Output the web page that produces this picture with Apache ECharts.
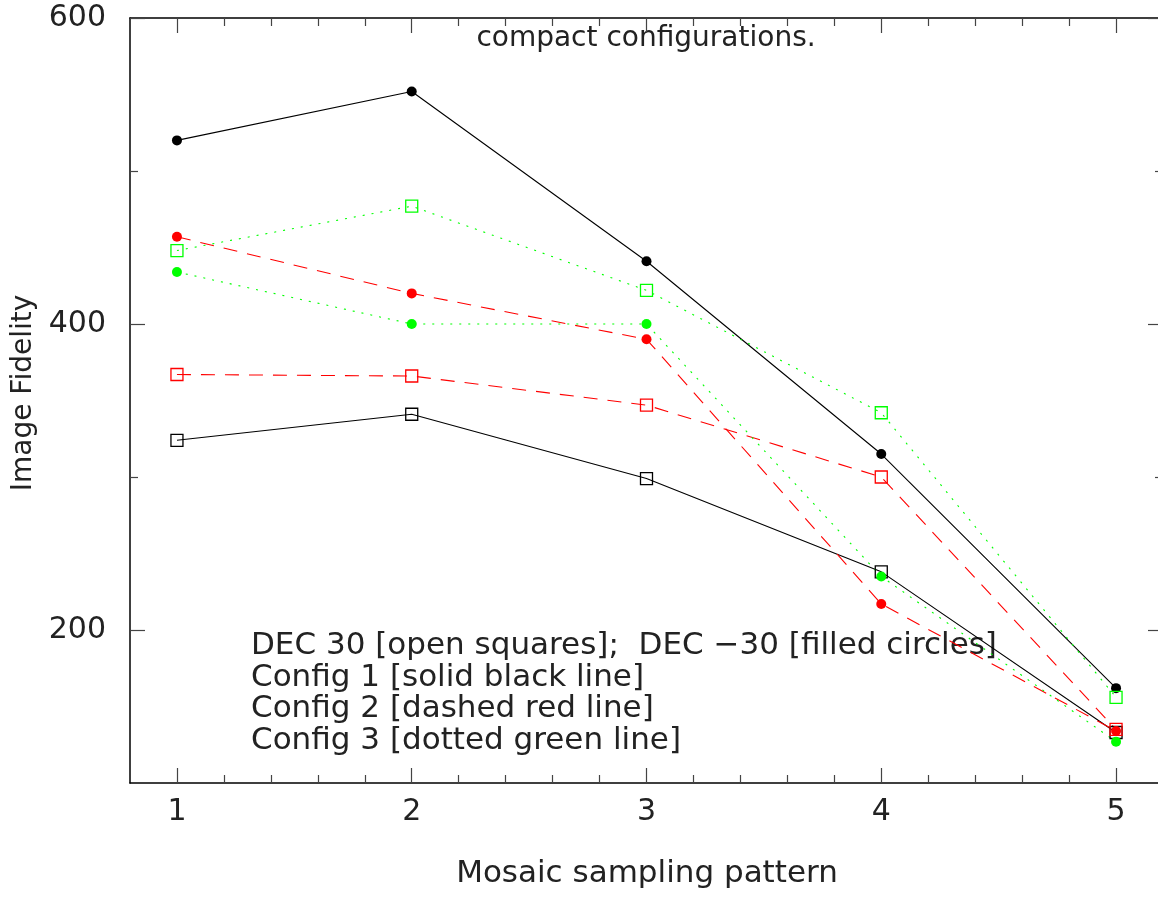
<!DOCTYPE html>
<html>
<head>
<meta charset="utf-8">
<script src="https://cdn.jsdelivr.net/npm/echarts@6/dist/echarts.min.js"></script>
<style>
html,body{margin:0;padding:0;background:#fff;overflow:hidden;width:1158px;height:898px;}
#chart{width:1170px;height:898px;}
</style>
</head>
<body>
<div id="chart"></div>
<script>
// ---- data ----
const patterns = [1, 2, 3, 4, 5];
const xTickLabels = [1, 2, 3, 4, 5];
const yTickLabels = [200, 400, 600];

// DEC -30 (filled circles)
const config1Dec30m = [520, 552, 441, 315, 162];
const config2Dec30m = [457, 420, 390, 217, 134];
const config3Dec30m = [434, 400, 400, 235, 127];
// DEC 30 (open squares)
const config1Dec30 = [324, 341, 299, 238, 133];
const config2Dec30 = [367, 366, 347, 300, 135];
const config3Dec30 = [448, 477, 422, 342, 156];

const titleText = 'compact configurations.';
const xName = 'Mosaic sampling pattern';
const yName = 'Image Fidelity';
const legendLines = [
  'DEC 30 [open squares];  DEC \u221230 [filled circles]',
  'Config 1 [solid black line]',
  'Config 2 [dashed red line]',
  'Config 3 [dotted green line]'
];

// ---- layout ----
const FONT = 'DejaVu Sans';
const TXT = '#222';
const X_MIN = 0.8, X_MAX = 5.2, Y_MIN = 100, Y_MAX = 600;
const xMinor = [];
for (let k = 6; k <= 24; k++) { if (k % 5 !== 0) xMinor.push(k / 5); }
const yMinor = [300, 500];

function pair(d) { return d.map((v, i) => [patterns[i], v]); }

function mkSeries(name, data, color, lineType, filled) {
  return {
    name: name,
    type: 'line',
    data: pair(data),
    xAxisIndex: 0, yAxisIndex: 0,
    symbol: filled ? 'circle' : 'rect',
    symbolSize: filled ? 10 : 12,
    showSymbol: true,
    animation: false,
    lineStyle: { color: color, width: 1.1, type: lineType },
    itemStyle: filled ? { color: color, borderWidth: 0 } : { color: 'rgba(0,0,0,0)', borderColor: color, borderWidth: 1.3 },
    emphasis: { disabled: true },
    z: 3
  };
}

const axisLineStyle = { color: '#000', width: 1.5 };
const tickStyle = { color: '#444', width: 1.2 };

function xAx(pos, major, showLabel) {
  return {
    type: 'value', position: pos, min: X_MIN, max: X_MAX, gridIndex: 0,
    axisLine: { show: major, onZero: false, lineStyle: axisLineStyle },
    axisTick: { show: true, inside: true, length: major ? 15 : 8, lineStyle: tickStyle, customValues: major ? xTickLabels : xMinor },
    axisLabel: { show: showLabel, customValues: xTickLabels, fontFamily: FONT, fontSize: 30, color: TXT, margin: 14 },
    splitLine: { show: false }
  };
}
function yAx(pos, major, showLabel) {
  return {
    type: 'value', position: pos, min: Y_MIN, max: Y_MAX, gridIndex: 0,
    axisLine: { show: major, onZero: false, lineStyle: axisLineStyle },
    axisTick: { show: true, inside: true, length: major ? 15 : 8, lineStyle: tickStyle, customValues: major ? yTickLabels : yMinor },
    axisLabel: { show: showLabel, customValues: yTickLabels, fontFamily: FONT, fontSize: 30, color: TXT, margin: 24 },
    splitLine: { show: false }
  };
}

const chart = echarts.init(document.getElementById('chart'), null, { renderer: 'canvas' });
const legendGraphics = legendLines.map((t, i) => ({
  type: 'text', x: 251, y: 646 + i * 31.5,
  style: { text: t, fontFamily: FONT, fontSize: 31, fill: TXT, align: 'left', verticalAlign: 'middle' }
}));

chart.setOption({
  backgroundColor: '#fff',
  animation: false,
  grid: { left: 130, top: 18, width: 1033, height: 765, containLabel: false },
  xAxis: [xAx('bottom', true, true), xAx('bottom', false, false), xAx('top', true, false), xAx('top', false, false)],
  yAxis: [yAx('left', true, true), yAx('left', false, false), yAx('right', true, false), yAx('right', false, false)],
  series: [
    mkSeries('Config 1 DEC 30', config1Dec30, '#000000', 'solid', false),
    mkSeries('Config 1 DEC -30', config1Dec30m, '#000000', 'solid', true),
    mkSeries('Config 2 DEC 30', config2Dec30, '#ff0000', [14, 10], false),
    mkSeries('Config 2 DEC -30', config2Dec30m, '#ff0000', [14, 10], true),
    mkSeries('Config 3 DEC 30', config3Dec30, '#00ff00', [2, 7], false),
    mkSeries('Config 3 DEC -30', config3Dec30m, '#00ff00', [2, 7], true)
  ],
  graphic: [
    { type: 'text', x: 646, y: 38.5, style: { text: titleText, fontFamily: FONT, fontSize: 28, fill: TXT, align: 'center', verticalAlign: 'middle' } },
    { type: 'text', x: 647, y: 874, style: { text: xName, fontFamily: FONT, fontSize: 31, fill: TXT, align: 'center', verticalAlign: 'middle' } },
    { type: 'text', x: 23.5, y: 393, rotation: Math.PI / 2, style: { text: yName, fontFamily: FONT, fontSize: 28, fill: TXT, align: 'center', verticalAlign: 'middle' } }
  ].concat(legendGraphics)
});
</script>
</body>
</html>
